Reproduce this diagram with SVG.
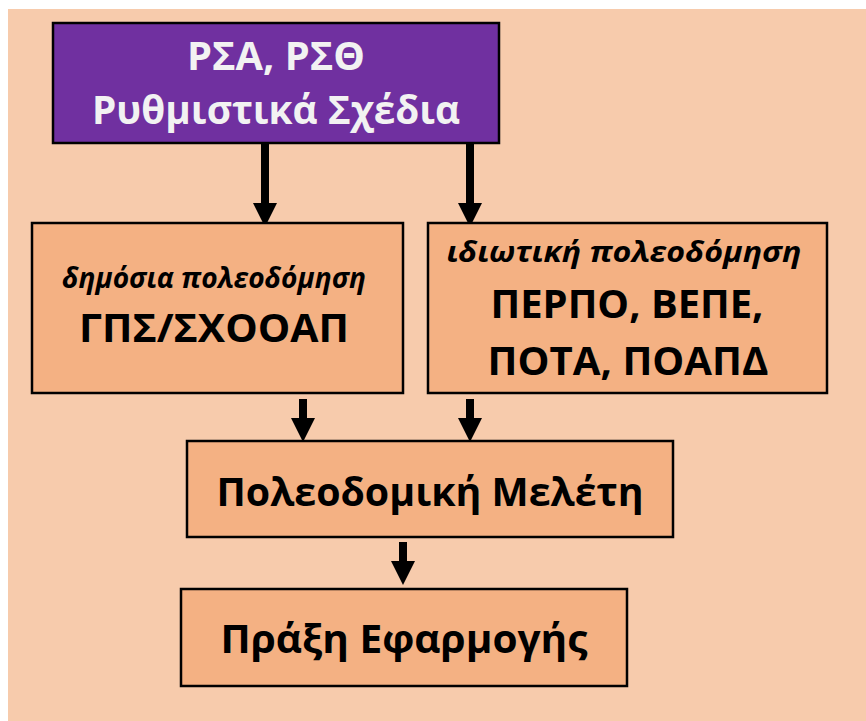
<svg xmlns="http://www.w3.org/2000/svg" width="866" height="721" viewBox="0 0 866 721">
  <style>
    .box { fill: #F4B183; stroke: #000; stroke-width: 2.5; }
    .top { fill: #7030A0; stroke: #000; stroke-width: 2.5; }
    .t { font-family: "Open Sans", "Noto Sans", "Liberation Sans", sans-serif; font-weight: bold; text-anchor: middle; }
    .big { font-size: 40px; fill: #000; }
    .white { font-size: 40px; fill: #F2F2F2; }
    .it { font-size: 28px; font-style: italic; fill: #000; }
    .arrow { stroke: #000; stroke-width: 8; fill: none; }
  </style>
  <defs>
    <marker id="head" viewBox="0 0 24 24" markerWidth="24" markerHeight="24" markerUnits="userSpaceOnUse" refX="1" refY="12" orient="auto">
      <path d="M0,0 L24,12 L0,24 z" fill="#000"/>
    </marker>
  </defs>
  <rect x="0" y="0" width="866" height="721" fill="#FFFFFF"/>
  <rect x="8" y="9" width="858" height="712" fill="#F7CBAC"/>

  <g id="connectors">
    <line class="arrow" x1="265" y1="143" x2="265" y2="204" marker-end="url(#head)"/>
    <line class="arrow" x1="470" y1="143" x2="470" y2="204" marker-end="url(#head)"/>
    <line class="arrow" x1="303" y1="399" x2="303" y2="419" marker-end="url(#head)"/>
    <line class="arrow" x1="470" y1="399" x2="470" y2="419" marker-end="url(#head)"/>
    <line class="arrow" x1="403" y1="542" x2="403" y2="562" marker-end="url(#head)"/>
  </g>

  <g id="node-rsa">
    <rect class="top" x="53" y="23" width="446" height="120"/>
    <text class="t white" x="276" y="70" textLength="178" lengthAdjust="spacingAndGlyphs">ΡΣΑ, ΡΣΘ</text>
    <text class="t white" x="276" y="124" textLength="368" lengthAdjust="spacingAndGlyphs">Ρυθμιστικά Σχέδια</text>
  </g>

  <g id="node-public">
    <rect class="box" x="32" y="223" width="371" height="170"/>
    <text class="t it" x="214" y="288" textLength="304" lengthAdjust="spacingAndGlyphs">δημόσια πολεοδόμηση</text>
    <text class="t big" x="214" y="342" textLength="270" lengthAdjust="spacingAndGlyphs">ΓΠΣ/ΣΧΟΟΑΠ</text>
  </g>

  <g id="node-private">
    <rect class="box" x="428" y="223" width="399" height="170"/>
    <text class="t it" x="624" y="262" textLength="355" lengthAdjust="spacingAndGlyphs">ιδιωτική πολεοδόμηση</text>
    <text class="t big" x="627" y="318" textLength="273" lengthAdjust="spacingAndGlyphs">ΠΕΡΠΟ, ΒΕΠΕ,</text>
    <text class="t big" x="628" y="375" textLength="281" lengthAdjust="spacingAndGlyphs">ΠΟΤΑ, ΠΟΑΠΔ</text>
  </g>

  <g id="node-meleti">
    <rect class="box" x="187" y="441" width="486" height="96"/>
    <text class="t big" x="430" y="506" textLength="427" lengthAdjust="spacingAndGlyphs">Πολεοδομική Μελέτη</text>
  </g>

  <g id="node-praxi">
    <rect class="box" x="181" y="589" width="446" height="97"/>
    <text class="t big" x="404" y="653" textLength="367" lengthAdjust="spacingAndGlyphs">Πράξη Εφαρμογής</text>
  </g>
</svg>
